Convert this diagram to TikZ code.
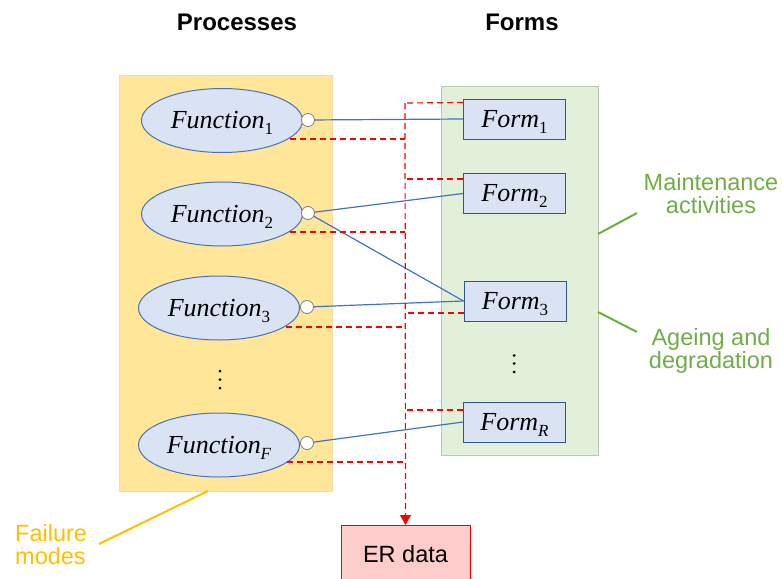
\documentclass[tikz,border=0pt]{standalone}
\usepackage{fontspec}
\setmainfont{Liberation Sans}
\newfontfamily\mathlike{Liberation Serif}
\usetikzlibrary{arrows.meta,shapes.geometric,calc}
\definecolor{cblue}{HTML}{4472C4}
\definecolor{cfill}{HTML}{DAE3F3}
\definecolor{cformb}{HTML}{2F5597}
\definecolor{cyel}{HTML}{FFE699}
\definecolor{cyelb}{HTML}{F2DFA8}
\definecolor{cgreen}{HTML}{E2F0D9}
\definecolor{cgreenb}{HTML}{B8C9AE}
\definecolor{clgreen}{HTML}{70AD47}
\definecolor{corange}{HTML}{FFC000}
\definecolor{cred}{HTML}{FF0000}
\definecolor{cpink}{HTML}{FFCCCC}
\newcommand{\mylbl}[2]{{\mathlike\itshape #1}\smash{\raisebox{-6pt}{\fontsize{17}{18}\selectfont\mathlike #2}}}
\newcommand{\mylbli}[2]{{\mathlike\itshape #1}\smash{\raisebox{-6pt}{\fontsize{17}{18}\selectfont\mathlike\itshape #2}}}
\tikzset{
  func/.style={ellipse, draw=cblue, fill=cfill, line width=1pt, minimum width=161pt, minimum height=64pt, inner sep=0pt, font=\fontsize{26}{28}\selectfont},
  formbox/.style={rectangle, draw=cformb, fill=cfill, line width=1pt, minimum width=102pt, minimum height=40pt, inner sep=0pt, font=\fontsize{26}{28}\selectfont},
  port/.style={circle, draw=gray, fill=white, line width=0.8pt, minimum size=13pt, inner sep=0pt},
  link/.style={draw=cblue, line width=1.2pt},
  rdash/.style={draw=cred, dash pattern=on 6pt off 4pt, line width=1.2pt},
  title/.style={font=\bfseries\fontsize{24}{28}\selectfont},
  glabel/.style={text=clgreen, align=center, font=\fontsize{23.5}{27}\selectfont},
  dotmark/.style={circle, fill=black, minimum size=3pt, inner sep=0pt},
}
\begin{document}
\begin{tikzpicture}[x=1pt,y=-1pt]
\useasboundingbox (0,0) rectangle (783,578);
\begin{scope}
\clip (0,0) rectangle (783,578);
% backgrounds
\node[draw=cyelb, fill=cyel, line width=0.8pt, minimum width=213pt, minimum height=416pt, inner sep=0pt] (proc) at (225.5,283) {};
\node[draw=cgreenb, fill=cgreen, line width=0.8pt, minimum width=157pt, minimum height=369pt, inner sep=0pt] (forms) at (519.5,270.5) {};
% titles
\node[title] (tp) at (237,22) {Processes};
\node[title] (tf) at (522,22) {Forms};
% functions
\node[func] (f1) at (222,120.5) {\mylbl{Function}{1}};
\node[func] (f2) at (222,214) {\mylbl{Function}{2}};
\node[func] (f3) at (219,308) {\mylbl{Function}{3}};
\node[func] (fF) at (219,445) {\mylbli{Function}{F}};
\node[dotmark] (fd1) at (220,371) {};
\node[dotmark] (fd2) at (220,379.5) {};
\node[dotmark] (fd3) at (220,388) {};
% ports
\node[port] (p1) at (308,120) {};
\node[port] (p2) at (308,213) {};
\node[port] (p3) at (307,307) {};
\node[port] (pF) at (307,443) {};
% forms
\node[formbox] (r1) at (514.5,119) {\mylbl{Form}{1}};
\node[formbox] (r2) at (514.5,193.5) {\mylbl{Form}{2}};
\node[formbox] (r3) at (515,301) {\mylbl{Form}{3}};
\node[formbox] (rR) at (514.5,422) {\mylbli{Form}{R}};
\node[dotmark] (rd1) at (514,355.5) {};
\node[dotmark] (rd2) at (514,363.5) {};
\node[dotmark] (rd3) at (514,372) {};
% ER data
\node[draw=cred, fill=cpink, line width=1pt, minimum width=129pt, minimum height=70pt, inner sep=0pt, anchor=north] (er) at (405.5,525) {};
\node[font=\fontsize{23.5}{27}\selectfont] (ert) at (405.5,554) {ER data};
% links
\draw[link] (p1) -- (r1.west);
\draw[link] (p2) -- (r2.west);
\draw[link] (p2) -- (r3.west);
\draw[link] (p3) -- (r3.west);
\draw[link] (pF) -- (rR.west);
% red dashed
\coordinate (bus) at (405,103);
\draw[rdash] ([yshift=-4pt]r1.north west) -- (bus);
\draw[rdash, -{Triangle[length=10pt,width=11pt]}] (bus) -- (er.north);
\coordinate (b1) at (405,139);
\coordinate (b2) at (405,232);
\coordinate (b3) at (405,327);
\coordinate (b4) at (405,462);
\coordinate (c2) at (405,179);
\coordinate (c3) at (405,313);
\coordinate (c4) at (405,410);
\draw[rdash] (290,139) -- (b1);
\draw[rdash] (290,232) -- (b2);
\draw[rdash] (286,327) -- (b3);
\draw[rdash] (287,462) -- (b4);
\draw[rdash] (r2.west |- c2) -- (c2);
\draw[rdash] (r3.west |- c3) -- (c3);
\draw[rdash] (rR.west |- c4) -- (c4);
% green annotations
\node[glabel] (mt) at (711,194) {Maintenance\\[-4pt]activities};
\node[glabel] (ag) at (711,351) {Ageing and\\[-4pt]degradation};
\coordinate (g1) at (598,234);
\coordinate (g2) at (598,312);
\draw[clgreen, line width=2pt] (g1) -- (637,213);
\draw[clgreen, line width=2pt] (g2) -- (637,332);
% failure modes
\node[text=corange, align=left, anchor=west, inner sep=0pt, font=\fontsize{23.5}{27}\selectfont] (fm) at (15,545) {Failure\\[-4pt]modes};
\coordinate (y1) at (208,491);
\draw[corange, line width=2pt] (y1) -- (99,544);
\end{scope}
\end{tikzpicture}
\end{document}
